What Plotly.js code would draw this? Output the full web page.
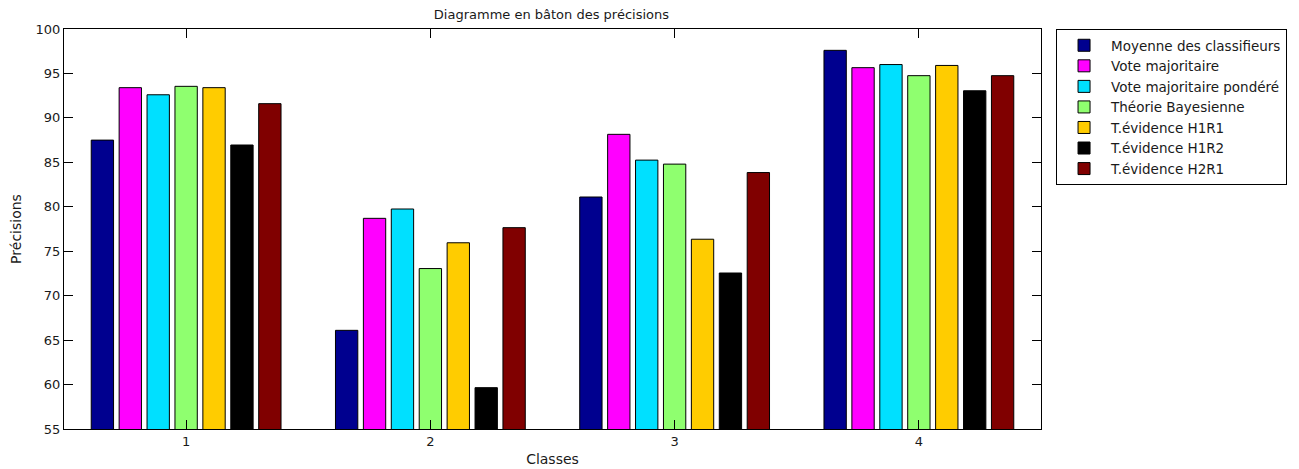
<!DOCTYPE html>
<html>
<head>
<meta charset="utf-8">
<script src="https://cdn.plot.ly/plotly-3.0.1.min.js"></script>
<style>html,body{margin:0;padding:0;background:#fff;}#chart{width:1299px;height:469px;}</style>
</head>
<body>
<div id="chart"></div>
<script>
const classes = [1, 2, 3, 4];
const seriesNames = [
  "Moyenne des classifieurs",
  "Vote majoritaire",
  "Vote majoritaire pondéré",
  "Théorie Bayesienne",
  "T.évidence H1R1",
  "T.évidence H1R2",
  "T.évidence H2R1"
];
const moyenne = [87.5, 66.1, 81.1, 97.6];
const voteMaj = [93.4, 78.7, 88.15, 95.65];
const votePond = [92.6, 79.75, 85.25, 96.0];
const bayes = [93.55, 73.05, 84.8, 94.75];
const h1r1 = [93.4, 75.95, 76.35, 95.9];
const h1r2 = [86.95, 59.65, 72.55, 93.05];
const h2r1 = [91.6, 77.65, 83.85, 94.75];
const seriesColors = ["#00008F", "#FF00FF", "#00E0FF", "#8FFF6F", "#FFCC00", "#000000", "#800000"];

const allSeries = [moyenne, voteMaj, votePond, bayes, h1r1, h1r2, h2r1];
const data = allSeries.map((vals, i) => ({
  type: "bar",
  name: seriesNames[i],
  x: classes,
  y: vals,
  marker: { color: seriesColors[i], line: { color: "#000", width: 1 } },
  hoverinfo: "x+y+name"
}));

const fontFam = "DejaVu Sans, Verdana, sans-serif";
const layout = {
  width: 1299,
  height: 469,
  margin: { l: 64, r: 258, t: 29, b: 40, pad: 0, autoexpand: false },
  paper_bgcolor: "#fff",
  plot_bgcolor: "#fff",
  font: { family: fontFam, size: 13, color: "#1a1a1a" },
  title: { text: "Diagramme en bâton des précisions", font: { size: 13, family: fontFam, color: "#1a1a1a" }, x: 0.4245, xanchor: "center", y: 0.97, yanchor: "middle" },
  barmode: "group",
  bargap: 0.2,
  bargroupgap: 0.2,
  showlegend: true,
  legend: {
    x: 1.0154, xanchor: "left", y: 1.0, yanchor: "top",
    bordercolor: "#000", borderwidth: 1, bgcolor: "#fff",
    font: { size: 13.5, family: fontFam, color: "#1a1a1a" }, tracegroupgap: 0, itemwidth: 44
  },
  xaxis: {
    range: [0.5, 4.5],
    tickvals: classes,
    ticktext: classes.map(String),
    ticks: "inside", ticklen: 9, tickcolor: "#000",
    showline: true, linecolor: "#000", linewidth: 1, mirror: "ticks",
    showgrid: false, zeroline: false,
    title: { text: "Classes", font: { size: 14 }, standoff: 6 },
    tickfont: { size: 13 }
  },
  yaxis: {
    range: [55, 100],
    dtick: 5,
    ticks: "inside", ticklen: 9, tickcolor: "#000",
    showline: true, linecolor: "#000", linewidth: 1, mirror: "ticks",
    showgrid: false, zeroline: false,
    title: { text: "Précisions", font: { size: 14 }, standoff: 10 },
    tickfont: { size: 13 }
  }
};

Plotly.newPlot("chart", data, layout, { displayModeBar: false, staticPlot: false });
</script>
</body>
</html>
